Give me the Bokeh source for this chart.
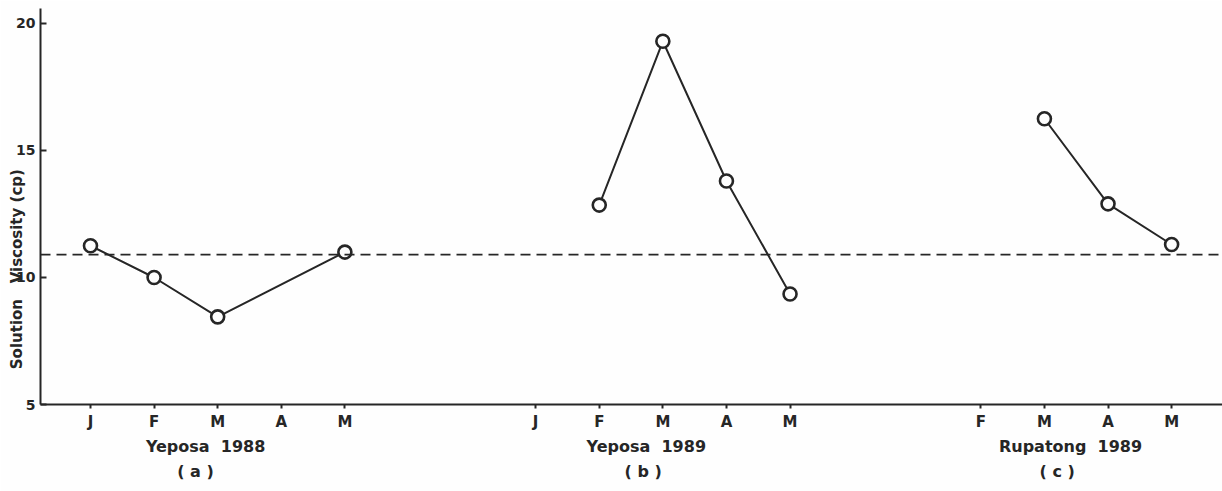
from bokeh.plotting import figure
from bokeh.models import Range1d, FixedTicker, Span, LinearAxis
from bokeh.embed import file_html
from bokeh.resources import INLINE

NB = "\u00a0"

# ---- data ----
tick_pos = [0, 1, 2, 3, 4, 7, 8, 9, 10, 11, 14, 15, 16, 17]
tick_labels = ["J", "F", "M", "A", "M", "J", "F", "M", "A", "M", "F", "M", "A", "M"]

yeposa88_x = [0, 1, 2, 4]
yeposa88_y = [11.25, 10.0, 8.45, 11.0]

yeposa89_x = [8, 9, 10, 11]
yeposa89_y = [12.85, 19.3, 13.8, 9.35]

rupatong89_x = [15, 16, 17]
rupatong89_y = [16.25, 12.9, 11.3]

reference_level = 10.9

group_titles = ["Yeposa" + NB * 2 + "1988", "Yeposa" + NB * 2 + "1989", "Rupatong" + NB * 2 + "1989"]
group_tags = ["(" + NB + "a" + NB + ")", "(" + NB + "b" + NB + ")", "(" + NB + "c" + NB + ")"]

y_ticks = [5, 10, 15, 20]
y_title = "Solution" + NB * 3 + "Viscosity" + NB + "(cp)"

# ---- figure ----
INK = "#262626"
BG = "#fefefe"
FONT = "DejaVu Sans"

p = figure(width=1222, height=491, output_backend="svg", toolbar_location=None,
           x_range=Range1d(-0.786, 17.80), y_range=Range1d(5, 20.59),
           min_border_left=40, min_border_right=0, min_border_top=8, min_border_bottom=87)
p.outline_line_color = None
p.background_fill_color = BG
p.border_fill_color = BG
p.xgrid.visible = False
p.ygrid.visible = False

# main x axis (months)
xa = p.xaxis[0]
xa.ticker = FixedTicker(ticks=tick_pos)
xa.major_label_overrides = {t: l for t, l in zip(tick_pos, tick_labels)}
xa.minor_tick_line_color = None
xa.major_tick_in = 0
xa.major_tick_out = 4
xa.major_tick_line_width = 2
xa.major_tick_line_color = INK
xa.axis_line_color = INK
xa.axis_line_width = 2
xa.major_label_text_font = FONT
xa.major_label_text_font_style = "bold"
xa.major_label_text_font_size = "15px"
xa.major_label_text_color = INK
xa.major_label_standoff = 4

# y axis
ya = p.yaxis[0]
ya.ticker = FixedTicker(ticks=y_ticks)
ya.minor_tick_line_color = None
ya.major_tick_in = 6
ya.major_tick_out = 0
ya.major_tick_line_width = 2
ya.major_tick_line_color = INK
ya.axis_line_color = INK
ya.axis_line_width = 2
ya.major_label_text_font = FONT
ya.major_label_text_font_style = "bold"
ya.major_label_text_font_size = "14px"
ya.major_label_text_color = INK
ya.major_label_standoff = 5
# trailing no-break spaces shift the visible title down along the axis
ya.axis_label = y_title + NB * 24
ya.axis_label_text_font = FONT
ya.axis_label_text_font_style = "bold"
ya.axis_label_text_font_size = "15px"
ya.axis_label_text_color = INK
ya.axis_label_standoff = -13

# group title rows as extra label-only axes below
title_ticks = [1.81, 8.74, 15.41]
tag_ticks = [1.65, 8.69, 15.2]


def label_axis(ticks, labels, standoff):
    ax = LinearAxis(ticker=FixedTicker(ticks=ticks),
                    major_label_overrides={t: l for t, l in zip(ticks, labels)})
    ax.axis_line_color = None
    ax.major_tick_line_color = None
    ax.minor_tick_line_color = None
    ax.major_tick_in = 0
    ax.major_tick_out = 0
    ax.major_label_standoff = standoff
    ax.major_label_text_font = FONT
    ax.major_label_text_font_style = "bold"
    ax.major_label_text_font_size = "16px"
    ax.major_label_text_color = INK
    return ax


p.add_layout(label_axis(title_ticks, group_titles, 3), "below")
p.add_layout(label_axis(tag_ticks, group_tags, 3), "below")

# dashed reference level
p.add_layout(Span(location=reference_level, dimension="width", line_color=INK,
                  line_width=1.6, line_dash="10 6"))

for xs, ys in [(yeposa88_x, yeposa88_y), (yeposa89_x, yeposa89_y), (rupatong89_x, rupatong89_y)]:
    p.line(xs, ys, line_color=INK, line_width=2)
    p.scatter(xs, ys, marker="circle", size=13, fill_color=BG,
              line_color=INK, line_width=2.6)

open("out.html", "w").write(file_html(p, INLINE))
